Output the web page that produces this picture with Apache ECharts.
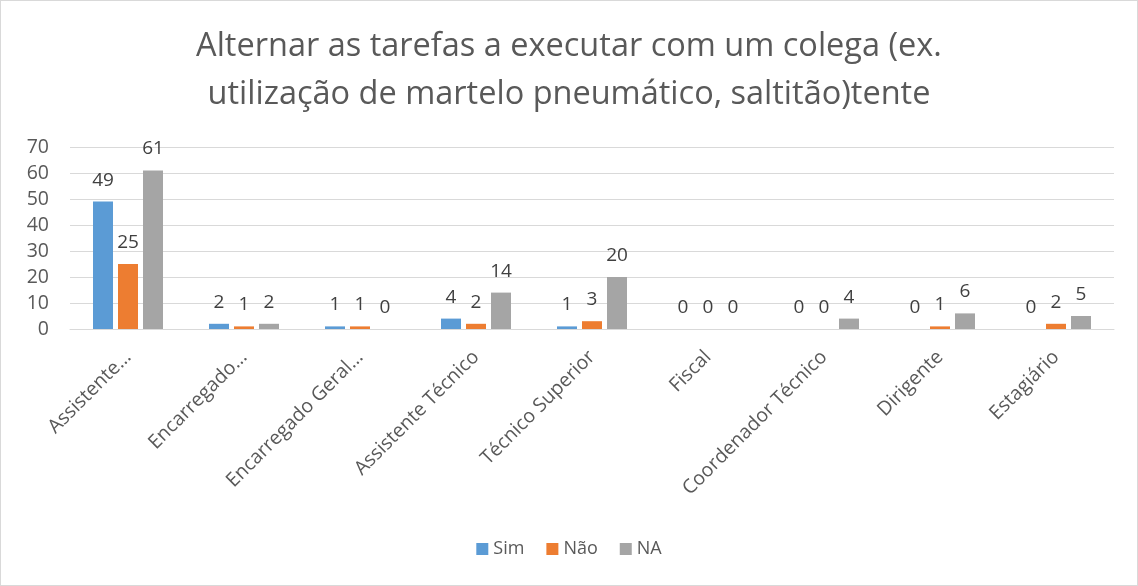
<!DOCTYPE html>
<html>
<head>
<meta charset="utf-8">
<script src="https://cdn.jsdelivr.net/npm/echarts@6/dist/echarts.min.js"></script>
<style>
  html, body { margin: 0; padding: 0; background: #fff; }
  #chart { width: 1136px; height: 584px; border: 1px solid #d9d9d9; }
</style>
</head>
<body>
<div id="chart"></div>
<script>
var categories = ['Assistente…', 'Encarregado…', 'Encarregado Geral…', 'Assistente Técnico',
  'Técnico Superior', 'Fiscal', 'Coordenador Técnico', 'Dirigente', 'Estagiário'];
var sim = [49, 2, 1, 4, 1, 0, 0, 0, 0];
var nao = [25, 1, 1, 2, 3, 0, 0, 1, 2];
var na = [61, 2, 0, 14, 20, 0, 4, 6, 5];

var font = '"Open Sans", sans-serif';
var chart = echarts.init(document.getElementById('chart'));

function bar(name, data, color) {
  return {
    name: name,
    type: 'bar',
    data: data,
    barWidth: 20,
    barGap: '25%',
    itemStyle: { color: color },
    label: {
      show: true,
      position: 'top',
      distance: 12,
      color: '#404040',
      fontSize: 19,
      fontFamily: font
    }
  };
}

chart.setOption({
  animation: false,
  textStyle: { fontFamily: font },
  title: {
    text: 'Alternar as tarefas a executar com um colega (ex.\nutilização de martelo pneumático, saltitão)tente',
    left: 'center',
    top: 17,
    textStyle: {
      color: '#595959',
      fontSize: 32.5,
      fontWeight: 'normal',
      lineHeight: 48,
      fontFamily: font
    }
  },
  legend: {
    bottom: 22,
    left: 'center',
    itemWidth: 12,
    itemHeight: 12,
    itemGap: 22,
    icon: 'rect',
    textStyle: { color: '#595959', fontSize: 18, fontFamily: font },
    data: ['Sim', 'Não', 'NA']
  },
  grid: {
    left: 69,
    right: 23,
    top: 146,
    bottom: 256
  },
  xAxis: {
    type: 'category',
    data: categories,
    axisTick: { show: false },
    axisLine: { lineStyle: { color: '#d9d9d9' } },
    axisLabel: {
      rotate: 45,
      interval: 0,
      margin: 25,
      color: '#595959',
      fontSize: 19.5,
      fontFamily: font
    }
  },
  yAxis: {
    type: 'value',
    min: 0,
    max: 70,
    interval: 10,
    axisLine: { show: false },
    axisTick: { show: false },
    splitLine: { lineStyle: { color: '#d9d9d9' } },
    axisLabel: { color: '#595959', fontSize: 19.5, margin: 21, fontFamily: font }
  },
  series: [
    bar('Sim', sim, '#5b9bd5'),
    bar('Não', nao, '#ed7d31'),
    bar('NA', na, '#a5a5a5')
  ]
});
</script>
</body>
</html>
